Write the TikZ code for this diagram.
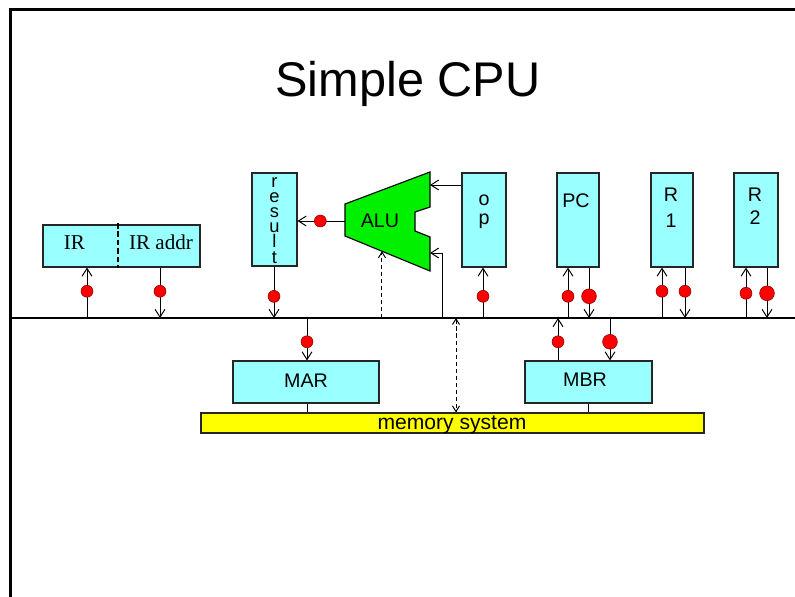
\documentclass[tikz,border=0pt]{standalone}
\usepackage{fontspec}
\setmainfont{Liberation Sans}
\newfontfamily\irfont{Liberation Serif}
\usetikzlibrary{arrows.meta,fit,calc}
\definecolor{regcyan}{RGB}{153,255,255}
\definecolor{alugreen}{RGB}{0,240,0}
\definecolor{memyellow}{RGB}{255,255,0}

\begin{document}
\begin{tikzpicture}[x=0.025cm, y=-0.025cm,
  >={Straight Barb[length=5.5pt,width=7pt]},
  wire/.style={draw=black, line width=0.7pt},
  reg/.style={draw=black!85, line width=0.8pt, fill=regcyan, inner sep=0pt},
  dot/.style={circle, draw=red!55!black, line width=0.4pt, fill=red, minimum size=8.5pt, inner sep=0pt},
  bigdot/.style={dot, minimum size=10.5pt},
  lbl/.style={font=\fontsize{14}{17}\selectfont, inner sep=0pt},
  ctl/.style={wire, dash pattern=on 3pt off 2pt, >={Straight Barb[length=4pt,width=5pt]}}]
\useasboundingbox (0,0) rectangle (795,597);
% frame and title
\draw [line width=2.1pt] (10.5,597) -- (10.5,9.5) -- (795,9.5);
\node[inner sep=0pt, anchor=base, font=\fontsize{34.6}{40}\selectfont] (title) at (408,97) {Simple CPU};
% bus
\coordinate (bus) at (12,318);
\coordinate (busend) at (795,318);
\draw [line width=2pt] (bus) -- (busend);
% registers
\node[reg, fit={(43,225) (200,267)}] (ir) {};
\node[reg, fit={(252,173) (297,266)}] (result) {};
\node[reg, fit={(462,173) (506,267)}] (op) {};
\node[reg, fit={(557,173) (599,267)}] (pc) {};
\node[reg, fit={(651,173) (693,267)}] (r1) {};
\node[reg, fit={(734,173) (778,267)}] (r2) {};
\node[reg, fit={(233,361) (379,403)}] (mar) {};
\node[reg, fit={(525,361) (652,403)}] (mbr) {};
\node[reg, fill=memyellow, fit={(201,413) (704,433)}] (mem) {};
\coordinate (irsplit) at (118,223);
\draw [line width=0.8pt, dash pattern=on 4pt off 2pt] (irsplit) -- (irsplit |- ir.south);
% labels
\node[lbl, font=\irfont\fontsize{15}{18}\selectfont] (irtext) at (74.5,242.5) {IR};
\node[lbl, font=\irfont\fontsize{15}{18}\selectfont] (iraddrtext) at (161,242.5) {IR addr};
\node[lbl, align=center, anchor=north, font={\fontsize{13}{10.8}\selectfont\setlength\lineskiplimit{-8pt}}] (resulttext) at (274.5,177) {r\\e\\s\\u\\l\\t};
\node[lbl, align=center, anchor=north, font={\fontsize{14}{13.5}\selectfont\setlength\lineskiplimit{-8pt}}] (optext) at (484,195) {o\\p};
\node[lbl, anchor=north] (pctext) at (576,193) {PC};
\node[lbl, align=center, anchor=north, font=\fontsize{14}{18}\selectfont] (r1text) at (671,188) {R\\1};
\node[lbl, align=center, anchor=north, font=\fontsize{14}{16}\selectfont] (r2text) at (755,188) {R\\2};
\node[lbl] (martext) at (306,380.5) {MAR};
\node[lbl] (mbrtext) at (585,380) {MBR};
\node[lbl, anchor=base, font=\fontsize{15}{18}\selectfont] (memtext) at (452,429.5) {memory system};
% ALU
\coordinate (a1) at (345,204);
\coordinate (a2) at (430,172);
\coordinate (a3) at (430,207);
\coordinate (a4) at (415,212);
\coordinate (a5) at (415,231);
\coordinate (a6) at (430,237);
\coordinate (a7) at (430,271);
\coordinate (a8) at (345,236);
\draw [line width=0.8pt, fill=alugreen] (a1) -- (a2) -- (a3) -- (a4) -- (a5) -- (a6) -- (a7) -- (a8) -- cycle;
\node[lbl] (alu) at (380,221) {ALU};
\coordinate (aluout) at (345,221);
\coordinate (aluin1) at (430,185);
\coordinate (aluin2) at (430,253);
\coordinate (alutap) at (442,318);
\coordinate (aluctl) at ($(a8)!0.435!(a7)$);
\draw [wire, ->] (aluout) -- node[dot, pos=0.52] (aludot) {} (result.east |- aluout);
\draw [wire, ->] (op.west |- aluin1) -- (aluin1);
\draw [wire, ->] (alutap) |- (aluin2);
\draw [ctl, ->] (aluctl |- bus) -- (aluctl);
% register taps on the bus
\coordinate (irup) at (87,0);
\coordinate (iraddrdn) at (160,0);
\coordinate (resultdn) at (274,0);
\coordinate (opup) at (483,0);
\coordinate (pcup) at (568,0);
\coordinate (pcdn) at (589,0);
\coordinate (r1up) at (662,0);
\coordinate (r1dn) at (685,0);
\coordinate (r2up) at (746,0);
\coordinate (r2dn) at (767,0);
\draw [wire, ->] (irup |- bus) -- node[dot, pos=0.53] (irdot) {} (irup |- ir.south);
\draw [wire, ->] (iraddrdn |- ir.south) -- node[dot, pos=0.47] (iraddrdot) {} (iraddrdn |- bus);
\draw [wire, ->] (resultdn |- result.south) -- node[dot, pos=0.58] (resultdot) {} (resultdn |- bus);
\draw [wire, ->] (opup |- bus) -- node[dot, pos=0.43] (opdot) {} (opup |- op.south);
\draw [wire, ->] (pcup |- bus) -- node[dot, pos=0.43] (pcupdot) {} (pcup |- pc.south);
\draw [wire, ->] (pcdn |- pc.south) -- node[bigdot, pos=0.57] (pcdndot) {} (pcdn |- bus);
\draw [wire, ->] (r1up |- bus) -- node[dot, pos=0.53] (r1updot) {} (r1up |- r1.south);
\draw [wire, ->] (r1dn |- r1.south) -- node[dot, pos=0.47] (r1dndot) {} (r1dn |- bus);
\draw [wire, ->] (r2up |- bus) -- node[dot, pos=0.49] (r2updot) {} (r2up |- r2.south);
\draw [wire, ->] (r2dn |- r2.south) -- node[bigdot, pos=0.51] (r2dndot) {} (r2dn |- bus);
% memory side
\coordinate (mardn) at (307,0);
\coordinate (mbrup) at (558,0);
\coordinate (mbrdn) at (610,0);
\coordinate (mbrmem) at (588,0);
\coordinate (memctl) at (456,0);
\draw [wire, ->] (mardn |- bus) -- node[dot, pos=0.56] (mardot) {} (mardn |- mar.north);
\draw [wire] (mar.south -| mardn) -- (mardn |- mem.north);
\draw [wire, ->] (mbrup |- mbr.north) -- node[dot, pos=0.44] (mbrupdot) {} (mbrup |- bus);
\draw [wire, ->] (mbrdn |- bus) -- node[bigdot, pos=0.56] (mbrdndot) {} (mbrdn |- mbr.north);
\draw [wire] (mbrmem |- mbr.south) -- (mbrmem |- mem.north);
\draw [ctl, <->] (memctl |- bus) -- (memctl |- mem.north);
\end{tikzpicture}
\end{document}
